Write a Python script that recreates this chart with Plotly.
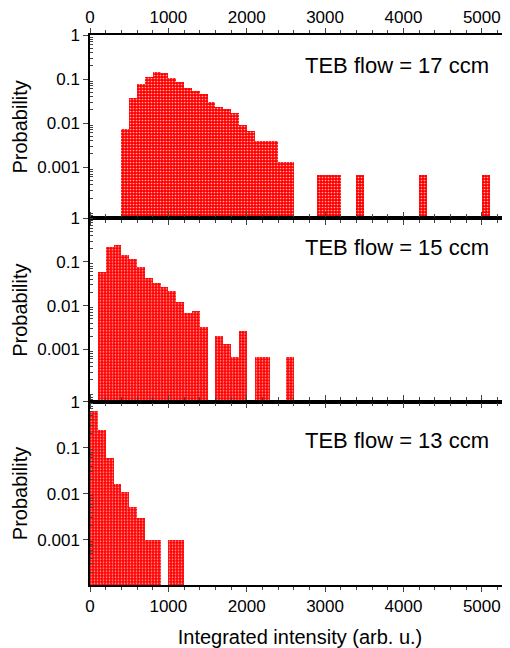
import plotly.graph_objects as go

# ---- data (bin start in arb. u., probability) ----
bin_width = 100

teb17_bins = [400, 500, 600, 700, 800, 900, 1000, 1100, 1200, 1300, 1400, 1500,
              1600, 1700, 1800, 1900, 2000, 2100, 2200, 2300, 2400, 2500,
              2900, 3000, 3100, 3400, 4200, 5000]
teb17_prob = [0.0073, 0.0376, 0.0757, 0.109, 0.142, 0.137, 0.104, 0.087, 0.0636, 0.0533, 0.0449, 0.030,
              0.0227, 0.0205, 0.0166, 0.0093, 0.0066, 0.0040, 0.0040, 0.0040, 0.00132, 0.00132,
              0.00068, 0.00068, 0.00068, 0.00068, 0.00068, 0.00068]

teb15_bins = [100, 200, 300, 400, 500, 600, 700, 800, 900, 1000, 1100, 1200, 1300, 1400,
              1600, 1700, 1800, 1900, 2100, 2200, 2500]
teb15_prob = [0.057, 0.213, 0.241, 0.140, 0.113, 0.074, 0.0415, 0.0319, 0.0268, 0.0213, 0.0117, 0.0066, 0.0073, 0.0032,
              0.00195, 0.00132, 0.00064, 0.00254, 0.00064, 0.00064, 0.00064]

teb13_bins = [0, 100, 200, 300, 400, 500, 600, 700, 800, 1000, 1100]
teb13_prob = [0.648, 0.25, 0.0606, 0.0165, 0.011, 0.0052, 0.0031, 0.001, 0.001, 0.001, 0.001]

panel_labels = ["TEB flow = 17 ccm", "TEB flow = 15 ccm", "TEB flow = 13 ccm"]
x_ticks = [0, 1000, 2000, 3000, 4000, 5000]
y_tickvals = [1, 0.1, 0.01, 0.001]
y_ticktext = ["1", "0.1", "0.01", "0.001"]

FONT = "Liberation Sans, Arial, sans-serif"
series = [(teb17_bins, teb17_prob), (teb15_bins, teb15_prob), (teb13_bins, teb13_prob)]
axis_ids = ["", "2", "3"]

fig = go.Figure()
for (bins, prob), aid in zip(series, axis_ids):
    fig.add_trace(go.Bar(
        x=[b + bin_width / 2 for b in bins], y=prob, width=bin_width,
        xaxis="x" + aid, yaxis="y" + aid,
        marker=dict(color="#ff0000", line=dict(width=0),
                    pattern=dict(shape=".", fgcolor="#ffb0b0", bgcolor="#ff0000",
                                 size=3, solidity=0.25, fillmode="replace")),
        showlegend=False, hoverinfo="x+y"))

minor_y = [m * 10 ** e for e in range(-5, 1) for m in range(2, 10)]

domains = [[2 / 3, 1.0], [1 / 3, 2 / 3], [0.0, 1 / 3]]
yranges = [[-4.16, 0], [-4.2, 0], [-3.98, 0]]

# the page body adds 8 px at the top-left, so the figure is 8 px smaller
layout = dict(
    width=502, height=640,
    margin=dict(l=82, r=0, t=27, b=63, autoexpand=False),
    paper_bgcolor="white", plot_bgcolor="white",
    font=dict(family=FONT, color="black", size=17),
    bargap=0,
)

for i, aid in enumerate(axis_ids):
    xa = dict(
        anchor="y" + aid, domain=[0, 1], range=[0, 5360], automargin=False,
        tickvals=x_ticks, ticks="outside", ticklen=5, tickwidth=1.2,
        showline=True, linecolor="black", linewidth=1.5, mirror="ticks",
        showgrid=False, zeroline=False,
        minor=dict(dtick=200, tick0=0, ticks="outside", ticklen=3, tickwidth=1, showgrid=False),
        tickfont=dict(size=17),
    )
    if i == 0:
        xa["side"] = "top"
        xa["ticklabelstandoff"] = -2
    elif i == 1:
        xa["showticklabels"] = False
        xa["matches"] = "x"
    else:
        xa["matches"] = "x"
        xa["title"] = dict(text="Integrated intensity (arb. u.)", font=dict(size=20), standoff=16)
    ya = dict(
        anchor="x" + aid, domain=domains[i], type="log", range=yranges[i], automargin=False,
        tickvals=y_tickvals, ticktext=y_ticktext,
        ticks="outside", ticklen=5, tickwidth=1.2,
        showline=True, linecolor="black", linewidth=1.5, mirror=False,
        showgrid=False, zeroline=False,
        minor=dict(tickvals=minor_y, ticks="inside", ticklen=3, tickwidth=1, showgrid=False),
        tickfont=dict(size=17),
    )
    layout["xaxis" + aid] = xa
    layout["yaxis" + aid] = ya

annotations = []
label_offsets = [0.165, 0.16, 0.21]  # fraction of panel from top
for i, aid in enumerate(axis_ids):
    annotations.append(dict(
        text=panel_labels[i], xref="x" + aid + " domain", yref="y" + aid + " domain",
        x=0.955, y=1 - label_offsets[i], xanchor="right", yanchor="middle",
        showarrow=False, font=dict(size=22, color="black")))
    annotations.append(dict(
        text="Probability", xref="x" + aid + " domain", yref="y" + aid + " domain",
        x=-0.167, y=0.5, xanchor="center", yanchor="middle", textangle=-90,
        showarrow=False, font=dict(size=20, color="black")))
layout["annotations"] = annotations

fig.update_layout(**layout)
fig.write_html("out.html")
